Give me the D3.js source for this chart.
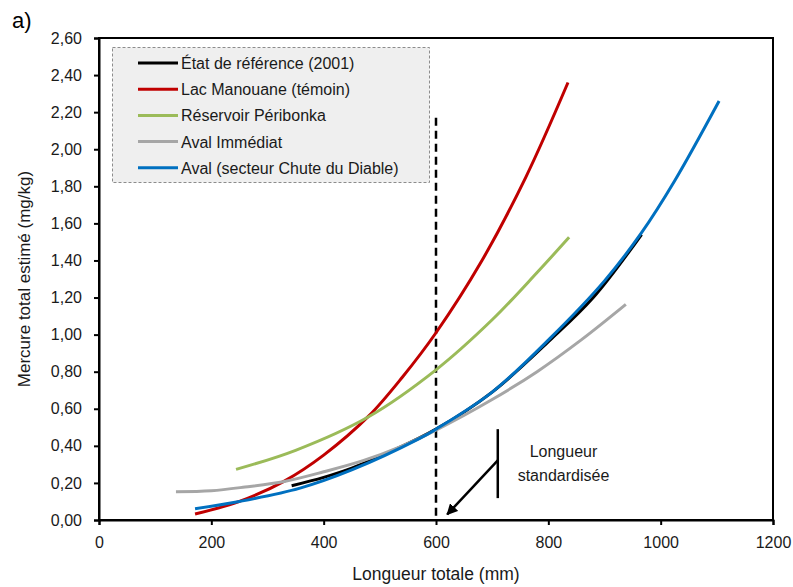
<!DOCTYPE html>
<html>
<head>
<meta charset="utf-8">
<script src="https://cdn.jsdelivr.net/npm/d3@7"></script>
<style>
  html, body { margin: 0; padding: 0; background: #fff; }
  svg { display: block; font-family: "Liberation Sans", Arial, sans-serif; }
</style>
</head>
<body>
<svg id="chart" width="793" height="587"></svg>
<script>
// ---- data ----
const seriesNames = [
  "État de référence (2001)",
  "Lac Manouane (témoin)",
  "Réservoir Péribonka",
  "Aval Immédiat",
  "Aval (secteur Chute du Diable)"
];
const seriesColors = ["#000000", "#c00000", "#9bbb59", "#a6a6a6", "#0070c0"];

const etatLength = [343, 400, 450, 520, 600, 700, 803, 880, 966];
const etatHg     = [0.185, 0.23, 0.28, 0.37, 0.49, 0.69, 0.97, 1.20, 1.54];

const manouaneLength = [171, 250, 330, 400, 480, 540, 600, 680, 760, 835];
const manouaneHg     = [0.032, 0.10, 0.21, 0.35, 0.56, 0.77, 1.01, 1.39, 1.85, 2.36];

const peribonkaLength = [244, 350, 480, 600, 700, 780, 837];
const peribonkaHg     = [0.273, 0.376, 0.557, 0.81, 1.08, 1.335, 1.525];

const avalImmLength = [137, 200, 260, 330, 400, 470, 536, 600, 700, 780, 858, 938];
const avalImmHg     = [0.153, 0.158, 0.178, 0.208, 0.26, 0.32, 0.395, 0.485, 0.65, 0.80, 0.97, 1.163];

const chuteLength = [171, 250, 358, 450, 571, 600, 700, 803, 900, 966, 1025, 1104];
const chuteHg     = [0.061, 0.10, 0.172, 0.27, 0.44, 0.49, 0.69, 0.98, 1.29, 1.55, 1.83, 2.26];

const xTicks = [0, 200, 400, 600, 800, 1000, 1200];
const yTicks = [0, 0.2, 0.4, 0.6, 0.8, 1.0, 1.2, 1.4, 1.6, 1.8, 2.0, 2.2, 2.4, 2.6];

const standardLength = 600;      // dashed line
const standardTop = 2.17;
const annotationLines = ["Longueur", "standardisée"];

// ---- layout ----
const svg = d3.select("#chart");
const W = 793, H = 587;
const margin = { left: 99, right: 20, top: 38, bottom: 67 };
const x = d3.scaleLinear().domain([0, 1200]).range([margin.left, W - margin.right]);
const y = d3.scaleLinear().domain([0, 2.6]).range([H - margin.bottom, margin.top]);

const fmt = v => d3.format(".2f")(v).replace(".", ",");

// frame
svg.append("rect")
  .attr("x", x(0)).attr("y", y(2.6))
  .attr("width", x(1200) - x(0)).attr("height", y(0) - y(2.6))
  .attr("fill", "none").attr("stroke", "#000").attr("stroke-width", 2);

// axes
const xAxis = svg.append("g")
  .attr("transform", `translate(0,${y(0)})`)
  .call(d3.axisBottom(x).tickValues(xTicks).tickFormat(d3.format("d")).tickSize(5).tickPadding(12));
const yAxis = svg.append("g")
  .attr("transform", `translate(${x(0)},0)`)
  .call(d3.axisLeft(y).tickValues(yTicks).tickFormat(fmt).tickSize(5).tickPadding(12));
[xAxis, yAxis].forEach(g => {
  g.select(".domain").attr("stroke", "#000").attr("stroke-width", 2);
  g.selectAll(".tick line").attr("stroke", "#000").attr("stroke-width", 2);
  g.selectAll(".tick text").attr("fill", "#1a1a1a")
    .style("font-family", "'Liberation Sans', Arial, sans-serif").style("font-size", "16px");
});

// axis titles
svg.append("text")
  .attr("x", (x(0) + x(1200)) / 2).attr("y", 580)
  .attr("text-anchor", "middle").attr("fill", "#1a1a1a")
  .style("font-size", "17.5px").text("Longueur totale (mm)");
svg.append("text")
  .attr("transform", `translate(30,${(y(0) + y(2.6)) / 2}) rotate(-90)`)
  .attr("text-anchor", "middle").attr("fill", "#1a1a1a")
  .style("font-size", "17px").text("Mercure total estimé (mg/kg)");

// panel label
svg.append("text").attr("x", 12).attr("y", 28)
  .style("font-size", "22px").attr("fill", "#000").text("a)");

// dashed standard length line
svg.append("line")
  .attr("x1", x(standardLength)).attr("x2", x(standardLength))
  .attr("y1", y(standardTop)).attr("y2", y(0))
  .attr("stroke", "#000").attr("stroke-width", 2.5).attr("stroke-dasharray", "8,5");

// curves
const seriesData = [
  etatLength.map((l, i) => [l, etatHg[i]]),
  manouaneLength.map((l, i) => [l, manouaneHg[i]]),
  peribonkaLength.map((l, i) => [l, peribonkaHg[i]]),
  avalImmLength.map((l, i) => [l, avalImmHg[i]]),
  chuteLength.map((l, i) => [l, chuteHg[i]])
];
const line = d3.line().x(d => x(d[0])).y(d => y(d[1])).curve(d3.curveCatmullRom.alpha(0.5));
seriesData.forEach((pts, i) => {
  svg.append("path").datum(pts)
    .attr("d", line)
    .attr("fill", "none")
    .attr("stroke", seriesColors[i])
    .attr("stroke-width", 3)
    .attr("stroke-linecap", "butt");
});

// annotation: vertical bar + arrow
svg.append("defs").append("marker")
  .attr("id", "arrow").attr("viewBox", "0 0 10 10")
  .attr("refX", 9).attr("refY", 5)
  .attr("markerWidth", 4.5).attr("markerHeight", 4.5)
  .attr("orient", "auto")
  .append("path").attr("d", "M0,0 L10,5 L0,10 z").attr("fill", "#000");

svg.append("line")
  .attr("x1", x(710)).attr("x2", x(710))
  .attr("y1", y(0.49)).attr("y2", y(0.118))
  .attr("stroke", "#000").attr("stroke-width", 2.5);
svg.append("line")
  .attr("x1", x(710)).attr("y1", y(0.322))
  .attr("x2", x(620)).attr("y2", y(0.03))
  .attr("stroke", "#000").attr("stroke-width", 2.5)
  .attr("marker-end", "url(#arrow)");
svg.append("g").selectAll("text").data(annotationLines).join("text")
  .attr("x", x(827)).attr("y", (d, i) => 457 + i * 24)
  .attr("text-anchor", "middle").attr("fill", "#1a1a1a")
  .style("font-size", "16px").text(d => d);

// legend
const lg = svg.append("g");
lg.append("rect")
  .attr("x", 112.5).attr("y", 47.5).attr("width", 317).attr("height", 135)
  .attr("fill", "#efefef").attr("stroke", "#8c8c8c").attr("stroke-width", 1)
  .attr("stroke-dasharray", "3,2");
seriesNames.forEach((name, i) => {
  const yy = 63 + i * 26.2;
  lg.append("line").attr("x1", 138).attr("x2", 178).attr("y1", yy).attr("y2", yy)
    .attr("stroke", seriesColors[i]).attr("stroke-width", 3);
  lg.append("text").attr("x", 181).attr("y", yy + 6)
    .attr("fill", "#1a1a1a").style("font-size", "16px").text(name);
});
</script>
</body>
</html>
